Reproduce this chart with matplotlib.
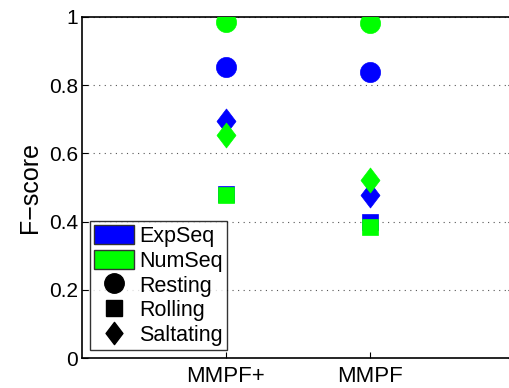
import matplotlib
matplotlib.use("Agg")
import matplotlib.pyplot as plt
from matplotlib.patches import Patch
from matplotlib.lines import Line2D
from matplotlib.path import Path

plt.rcParams['font.family'] = ['Liberation Sans', 'DejaVu Sans']

methods = ["MMPF+", "MMPF"]
series = ["ExpSeq", "NumSeq"]
colors = {"ExpSeq": "#0000ff", "NumSeq": "#00ff00"}
classes = ["Resting", "Rolling", "Saltating"]

# F-scores [MMPF+, MMPF]
expseq = {"Resting": [0.853, 0.839], "Rolling": [0.481, 0.398], "Saltating": [0.695, 0.478]}
numseq = {"Resting": [0.985, 0.982], "Rolling": [0.478, 0.384], "Saltating": [0.654, 0.522]}
data = {"ExpSeq": expseq, "NumSeq": numseq}

diamond = Path([(0, 1), (0.76, 0), (0, -1), (-0.76, 0), (0, 1)],
               [Path.MOVETO, Path.LINETO, Path.LINETO, Path.LINETO, Path.CLOSEPOLY])
markers = {"Resting": "o", "Rolling": "s", "Saltating": diamond}
msizes = {"Resting": 14.5, "Rolling": 11.5, "Saltating": 18}

fig = plt.figure(figsize=(5.09, 3.88), dpi=100)
ax = fig.add_axes([82/509, 1 - 358/388, (514 - 82)/509, (358 - 17)/388])

xs = [1, 2]
for s in series:
    for c in classes:
        ax.plot(xs, data[s][c], linestyle="none", marker=markers[c],
                markersize=msizes[c], color=colors[s], markeredgecolor=colors[s],
                markeredgewidth=0.5, zorder=3)

ax.set_xlim(0, 3)
ax.set_ylim(0, 1)
ax.set_xticks(xs)
ax.set_xticklabels(methods, fontsize=16)
ax.set_yticks([0, 0.2, 0.4, 0.6, 0.8, 1])
ax.set_yticklabels(["0", "0.2", "0.4", "0.6", "0.8", "1"], fontsize=15)
ax.tick_params(direction="in", length=4, width=0.8, top=True, right=True, pad=3)
ax.tick_params(axis="x", pad=6)
ax.yaxis.grid(True, linestyle=(0, (1, 4)), color="#555555", linewidth=0.8)
ax.set_ylabel("F\u2212score", fontsize=18, labelpad=5)
for sp in ax.spines.values():
    sp.set_linewidth(1.2)

handles = [
    Patch(facecolor=colors["ExpSeq"], edgecolor="#333333", label="ExpSeq"),
    Patch(facecolor=colors["NumSeq"], edgecolor="#333333", label="NumSeq"),
    Line2D([], [], linestyle="none", marker="o", color="black", markersize=14, label="Resting"),
    Line2D([], [], linestyle="none", marker="s", color="black", markersize=11, label="Rolling"),
    Line2D([], [], linestyle="none", marker=diamond, color="black", markersize=16, label="Saltating"),
]
leg = ax.legend(handles=handles, loc="lower left", bbox_to_anchor=(0, 0),
                fontsize=15.5, frameon=True, fancybox=False, edgecolor="black",
                handlelength=1.85, handleheight=1.0, labelspacing=0.13,
                handletextpad=0.25, borderpad=0.2, borderaxespad=0.35)
leg.get_frame().set_linewidth(1.0)

fig.savefig("out.png", dpi=100)
